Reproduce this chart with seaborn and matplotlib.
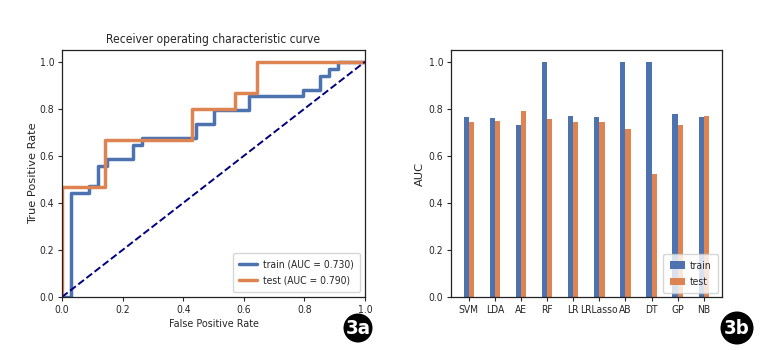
import matplotlib
matplotlib.use("Agg")
import matplotlib.pyplot as plt
from matplotlib.patches import Ellipse
from matplotlib import font_manager
import seaborn as sns
import pandas as pd

# ROC data
train_fpr = [0, 0, 0.029, 0.029, 0.088, 0.088, 0.118, 0.118, 0.147, 0.147, 0.235, 0.235,
             0.265, 0.265, 0.441, 0.441, 0.500, 0.500, 0.618, 0.618, 0.794, 0.794,
             0.853, 0.853, 0.882, 0.882, 0.912, 0.912, 1.0]
train_tpr = [0, 0, 0, 0.441, 0.441, 0.471, 0.471, 0.559, 0.559, 0.588, 0.588, 0.647,
             0.647, 0.676, 0.676, 0.735, 0.735, 0.794, 0.794, 0.853, 0.853, 0.882,
             0.882, 0.941, 0.941, 0.971, 0.971, 1.0, 1.0]
test_fpr = [0, 0, 0.143, 0.143, 0.429, 0.429, 0.571, 0.571, 0.643, 0.643, 1.0]
test_tpr = [0, 0.467, 0.467, 0.667, 0.667, 0.800, 0.800, 0.867, 0.867, 1.0, 1.0]
train_auc = 0.730
test_auc = 0.790
chance = [0.0, 1.0]

# AUC bar data
models = ["SVM", "LDA", "AE", "RF", "LR", "LRLasso", "AB", "DT", "GP", "NB"]
auc_train = [0.765, 0.762, 0.730, 1.0, 0.768, 0.767, 1.0, 1.0, 0.778, 0.764]
auc_test = [0.744, 0.748, 0.790, 0.755, 0.744, 0.744, 0.713, 0.525, 0.730, 0.768]

BLUE = "#4c72b0"
ORANGE = "#dd8452"

cond = [f for f in font_manager.fontManager.ttflist
        if "DejaVu" in f.name and "ondensed" in (f.fname + f.name)]
HAVE_COND = len(cond) > 0
COND_NAME = cond[0].name if HAVE_COND else "DejaVu Sans"

sns.set_style("ticks")
plt.rcParams["font.family"] = ["DejaVu Sans"]
plt.rcParams["axes.edgecolor"] = "#222222"

W, H = 781, 350
fig = plt.figure(figsize=(W / 100, H / 100), dpi=100)
fig.patch.set_facecolor("white")

def frac(l, t, r, b):
    return [l / W, 1 - b / H, (r - l) / W, (b - t) / H]

ax1 = fig.add_axes(frac(62, 50, 365, 297))
ax2 = fig.add_axes(frac(451, 50, 722, 297))

if HAVE_COND:
    hfont = dict(family=COND_NAME, stretch="condensed")
    k = 1.12
else:
    hfont = dict(family="DejaVu Sans")
    k = 1.0
tick_fs = 6.6 * k

def style_ticks(ax):
    ax.tick_params(length=3, width=0.8, pad=2.5)
    for lab in ax.get_xticklabels() + ax.get_yticklabels():
        lab.set_fontsize(tick_fs)
        lab.set_fontfamily(hfont["family"])
        if HAVE_COND:
            lab.set_fontstretch("condensed")

# Left: ROC
roc_train = pd.DataFrame({"fpr": train_fpr, "tpr": train_tpr})
roc_test = pd.DataFrame({"fpr": test_fpr, "tpr": test_tpr})
sns.lineplot(data=roc_train, x="fpr", y="tpr", sort=False, estimator=None, ax=ax1,
             color=BLUE, lw=2.5, label=f"train (AUC = {train_auc:.3f})")
sns.lineplot(data=roc_test, x="fpr", y="tpr", sort=False, estimator=None, ax=ax1,
             color=ORANGE, lw=2.5, label=f"test (AUC = {test_auc:.3f})")
sns.lineplot(x=chance, y=chance, ax=ax1, color="navy", lw=1.4, linestyle="--")
ax1.set_xlim(0, 1.0)
ax1.set_ylim(0, 1.05)
ax1.set_xticks([0, 0.2, 0.4, 0.6, 0.8, 1.0])
ax1.set_yticks([0, 0.2, 0.4, 0.6, 0.8, 1.0])
style_ticks(ax1)
ax1.set_xlabel("False Positive Rate", fontsize=6.9 * k, labelpad=3, **hfont)
ax1.set_ylabel("True Positive Rate", fontsize=8.2, labelpad=1, family="DejaVu Sans")
ax1.set_title("Receiver operating characteristic curve", fontsize=7.7 * k, pad=5, **hfont)
leg_prop = dict(size=6.6 * k, **hfont)
ax1.legend(loc="lower right", prop=leg_prop, handlelength=1.7, handletextpad=0.6,
           borderpad=0.6, labelspacing=0.6, borderaxespad=0.5, framealpha=0.8)

# Right: AUC bars
bars = pd.DataFrame({
    "model": models * 2,
    "AUC": auc_train + auc_test,
    "split": ["train"] * len(models) + ["test"] * len(models),
})
sns.barplot(data=bars, x="model", y="AUC", hue="split", ax=ax2, width=0.4,
            palette=[BLUE, ORANGE], saturation=1, order=models,
            hue_order=["train", "test"], linewidth=0)
ax2.set_xlim(-0.68, 9.7)
ax2.set_ylim(0, 1.05)
ax2.set_yticks([0, 0.2, 0.4, 0.6, 0.8, 1.0])
ax2.set_yticklabels(["0.0", "0.2", "0.4", "0.6", "0.8", "1.0"])
style_ticks(ax2)
ax2.set_xlabel("")
ax2.set_ylabel("AUC", fontsize=8.2, labelpad=3, family="DejaVu Sans")
ax2.legend(loc="lower right", prop=leg_prop, handlelength=1.5, handletextpad=0.5,
           borderpad=0.6, labelspacing=0.6, borderaxespad=0.4, framealpha=0.8, title=None)

for ax in (ax1, ax2):
    for s in ax.spines.values():
        s.set_visible(True)
        s.set_linewidth(0.9)

# Badges
def badge(cx, cy, r, txt):
    e = Ellipse((cx / W, 1 - cy / H), 2 * r / W, 2 * r / H, transform=fig.transFigure,
                facecolor="black", edgecolor="none")
    fig.add_artist(e)
    fig.text(cx / W, 1 - (cy + 0.5) / H, txt, color="white", fontsize=13 * k,
             fontweight="bold", ha="center", va="center", **hfont)

badge(358, 328, 14.5, "3a")
badge(737, 328, 16.5, "3b")

fig.savefig("out.png", dpi=100, facecolor="white")
